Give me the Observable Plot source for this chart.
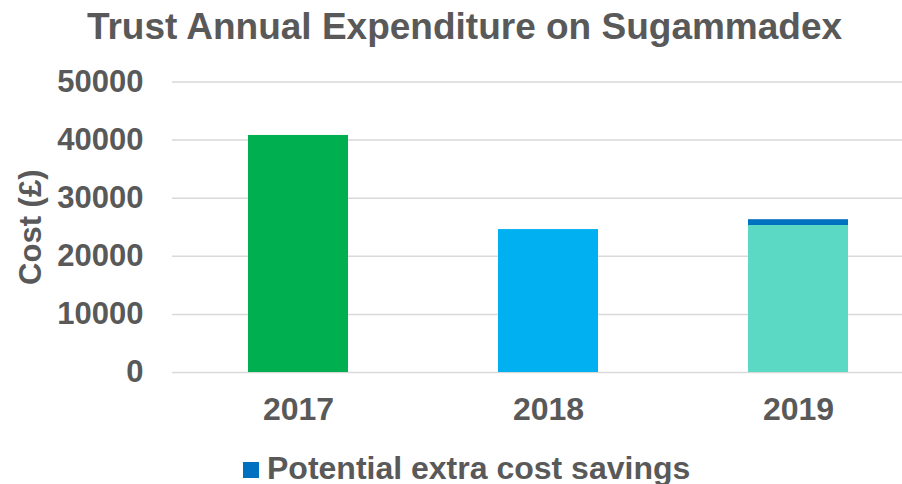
<!DOCTYPE html>
<html>
<head>
<meta charset="utf-8">
<script src="https://cdn.jsdelivr.net/npm/d3@7"></script>
<script src="https://cdn.jsdelivr.net/npm/@observablehq/plot@0.6"></script>
<style>
  html, body { margin: 0; padding: 0; background: #fff; }
  body { width: 902px; height: 484px; overflow: hidden; font-family: "Liberation Sans", Arial, sans-serif; color: #595959; }
  #title { height: 56px; line-height: 53px; font-size: 37px; font-weight: bold; text-align: center; padding-left: 27px; white-space: nowrap; box-sizing: border-box; overflow: hidden; }
  #chart svg { display: block; }
  #legend { position: relative; height: 38px; overflow: hidden; }
  #legend .sw { position: absolute; left: 243px; top: 16px; width: 16px; height: 16px; background: #0070C0; }
  #legend .lb { position: absolute; left: 267px; top: 6px; line-height: 32px; font-size: 32px; font-weight: bold; white-space: nowrap; }
</style>
</head>
<body>
<div id="title">Trust Annual Expenditure on Sugammadex</div>
<div id="chart"></div>
<div id="legend"><span class="sw"></span><span class="lb">Potential extra cost savings</span></div>
<script>
const years = ["2017", "2018", "2019"];
const expenditure = [40800, 24600, 25300];
const extraSavings = [0, 0, 1000];
const yTicks = [0, 10000, 20000, 30000, 40000, 50000];
const seriesKeys = ["2017", "2018", "2019", "extra"];
const seriesColors = ["#00B050", "#00B0F0", "#5CD9C4", "#0070C0"];

const rows = [];
years.forEach((y, i) => rows.push({year: y, key: y, value: expenditure[i]}));
years.forEach((y, i) => { if (extraSavings[i] > 0) rows.push({year: y, key: "extra", value: extraSavings[i]}); });

const chart = Plot.plot({
  width: 902,
  height: 390,
  marginLeft: 172,
  marginRight: 0,
  marginTop: 25.5,
  marginBottom: 74,
  style: {fontFamily: "'Liberation Sans', Arial, sans-serif", color: "#595959", background: "#fff"},
  x: {type: "band", domain: years, range: [172, 923], paddingInner: 0.6, paddingOuter: 0.3},
  y: {domain: [0, 50000]},
  color: {domain: seriesKeys, range: seriesColors},
  marks: [
    Plot.ruleY(yTicks, {stroke: "#D9D9D9", strokeWidth: 1.5}),
    Plot.barY(rows, {x: "year", y: "value", fill: "key"}),
    Plot.axisY({ticks: yTicks, tickFormat: d => String(d), tickSize: 0, tickPadding: 29, fontSize: 31, fontWeight: "bold", label: null}),
    Plot.axisX({tickSize: 0, tickPadding: 25, fontSize: 32, fontWeight: "bold", label: null}),
    Plot.text(["Cost (£)"], {frameAnchor: "left", text: d => d, rotate: -90, textAnchor: "middle", dx: -141, fontSize: 31, fontWeight: "bold", fill: "#595959"})
  ]
});
document.getElementById("chart").appendChild(chart);
</script>
</body>
</html>
